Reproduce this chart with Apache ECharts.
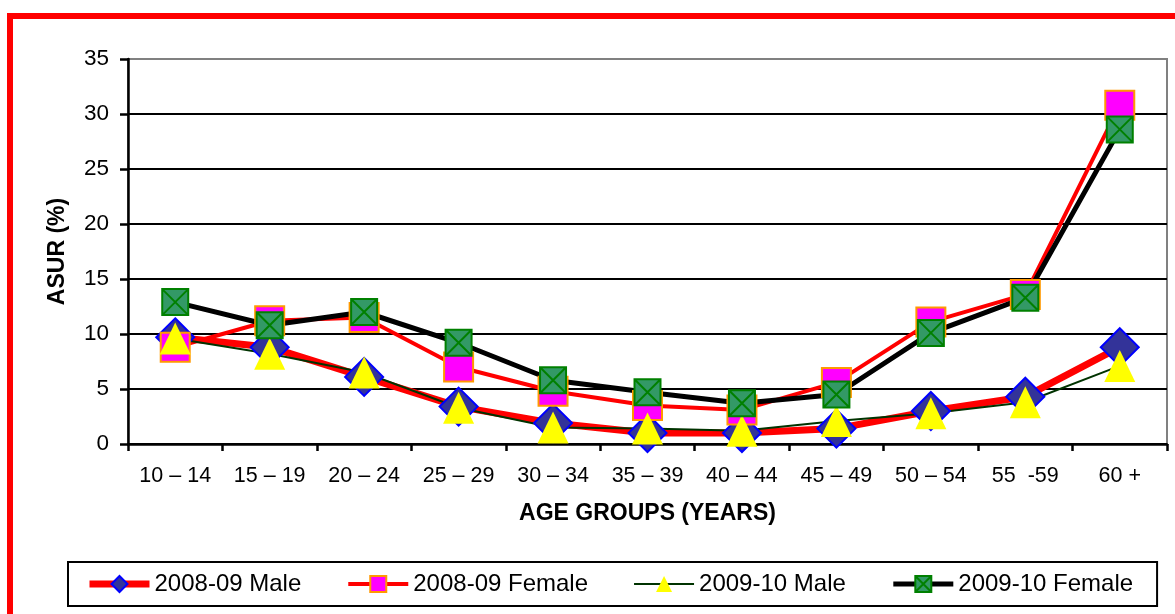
<!DOCTYPE html>
<html>
<head>
<meta charset="utf-8">
<script src="https://cdn.jsdelivr.net/npm/echarts@6/dist/echarts.min.js"></script>
<style>
html,body{margin:0;padding:0;background:#fff;width:1175px;height:614px;overflow:hidden;}
#frame{position:absolute;left:7px;top:13px;width:1300px;height:800px;border:6px solid #ff0000;box-sizing:border-box;}
#chart{position:absolute;left:0;top:0;width:1175px;height:614px;}
</style>
</head>
<body>
<div id="frame"></div>
<div id="chart"></div>
<script>
const categories = ['10 – 14','15 – 19','20 – 24','25 – 29','30 – 34','35 – 39','40 – 44','45 – 49','50 – 54','55  -59','60 +'];
const male0809   = [9.7, 8.8, 6.1, 3.4, 1.9, 1.0, 1.0, 1.4, 3.0, 4.3, 8.8];
const female0809 = [8.8, 11.2, 11.5, 7.0, 4.8, 3.5, 3.1, 5.6, 11.1, 13.6, 30.8];
const male0910   = [9.6, 8.2, 6.5, 3.3, 1.5, 1.4, 1.2, 2.1, 2.8, 3.8, 7.1];
const female0910 = [12.9, 10.8, 12.0, 9.2, 5.8, 4.7, 3.7, 4.5, 10.1, 13.3, 28.6];
const seriesNames = ['2008-09 Male','2008-09 Female','2009-10 Male','2009-10 Female'];
const yTicks = {min: 0, max: 35, interval: 5};

const FONT = '"Liberation Sans", Arial, sans-serif';
const xSquare = 'path://M0,0L10,0L10,10L0,10Z M0,0L10,10 M10,0L0,10';

const lineStyles = [
  {color: '#ff0000', width: 7},
  {color: '#ff0000', width: 4},
  {color: '#003300', width: 2},
  {color: '#000000', width: 5}
];

const chart = echarts.init(document.getElementById('chart'));
chart.setOption({
  animation: false,
  textStyle: {fontFamily: FONT, color: '#000'},
  grid: {left: 128, right: 8, top: 59, bottom: 170, show: true, borderColor: '#808080', borderWidth: 2, backgroundColor: 'transparent'},
  legend: {
    left: 68, top: 562,
    data: seriesNames.map((n, i) => ({name: n, lineStyle: {color: lineStyles[i].color, width: lineStyles[i].width}})),
    orient: 'horizontal',
    borderColor: '#000', borderWidth: 2,
    padding: [10, 24, 10, 18],
    itemWidth: 60, itemHeight: 20, itemGap: 45,
    textStyle: {fontSize: 24, color: '#000', fontFamily: FONT}
  },
  xAxis: {
    type: 'category',
    data: categories,
    boundaryGap: true,
    name: 'AGE GROUPS (YEARS)',
    nameLocation: 'middle',
    nameGap: 58,
    nameTextStyle: {fontSize: 23, fontWeight: 'bold', color: '#000', fontFamily: FONT},
    axisLine: {lineStyle: {color: '#000', width: 2.5}},
    axisTick: {show: true, length: 7, lineStyle: {color: '#000', width: 2.5}},
    axisLabel: {fontSize: 21.5, color: '#000', margin: 21, interval: 0, fontFamily: FONT},
    splitLine: {show: false}
  },
  yAxis: {
    type: 'value',
    min: yTicks.min, max: yTicks.max, interval: yTicks.interval,
    name: 'ASUR (%)',
    nameLocation: 'middle',
    nameRotate: 90,
    nameGap: 59,
    nameTextStyle: {fontSize: 23, fontWeight: 'bold', color: '#000', fontFamily: FONT},
    axisLine: {show: true, lineStyle: {color: '#000', width: 2.5}},
    axisTick: {show: true, length: 8, lineStyle: {color: '#000', width: 2.5}},
    axisLabel: {fontSize: 22.5, color: '#000', margin: 19, fontFamily: FONT},
    splitLine: {show: true, lineStyle: {color: ['#000','#000','#000','#000','#000','#000','#000','#808080'], width: 2}}
  },
  series: [
    {
      name: seriesNames[0], type: 'line', data: male0809,
      symbol: 'diamond', symbolSize: 38,
      lineStyle: lineStyles[0],
      itemStyle: {color: '#333399', borderColor: '#0000ff', borderWidth: 2}
    },
    {
      name: seriesNames[1], type: 'line', data: female0809,
      symbol: 'rect', symbolSize: 29,
      lineStyle: lineStyles[1],
      itemStyle: {color: '#ff00ff', borderColor: '#ff9900', borderWidth: 2}
    },
    {
      name: seriesNames[2], type: 'line', data: male0910,
      symbol: 'triangle', symbolSize: [31, 32],
      lineStyle: lineStyles[2],
      itemStyle: {color: '#ffff00', borderWidth: 0}
    },
    {
      name: seriesNames[3], type: 'line', data: female0910,
      symbol: xSquare, symbolSize: 26,
      lineStyle: lineStyles[3],
      itemStyle: {color: '#339966', borderColor: '#008000', borderWidth: 2}
    }
  ]
});
</script>
</body>
</html>
